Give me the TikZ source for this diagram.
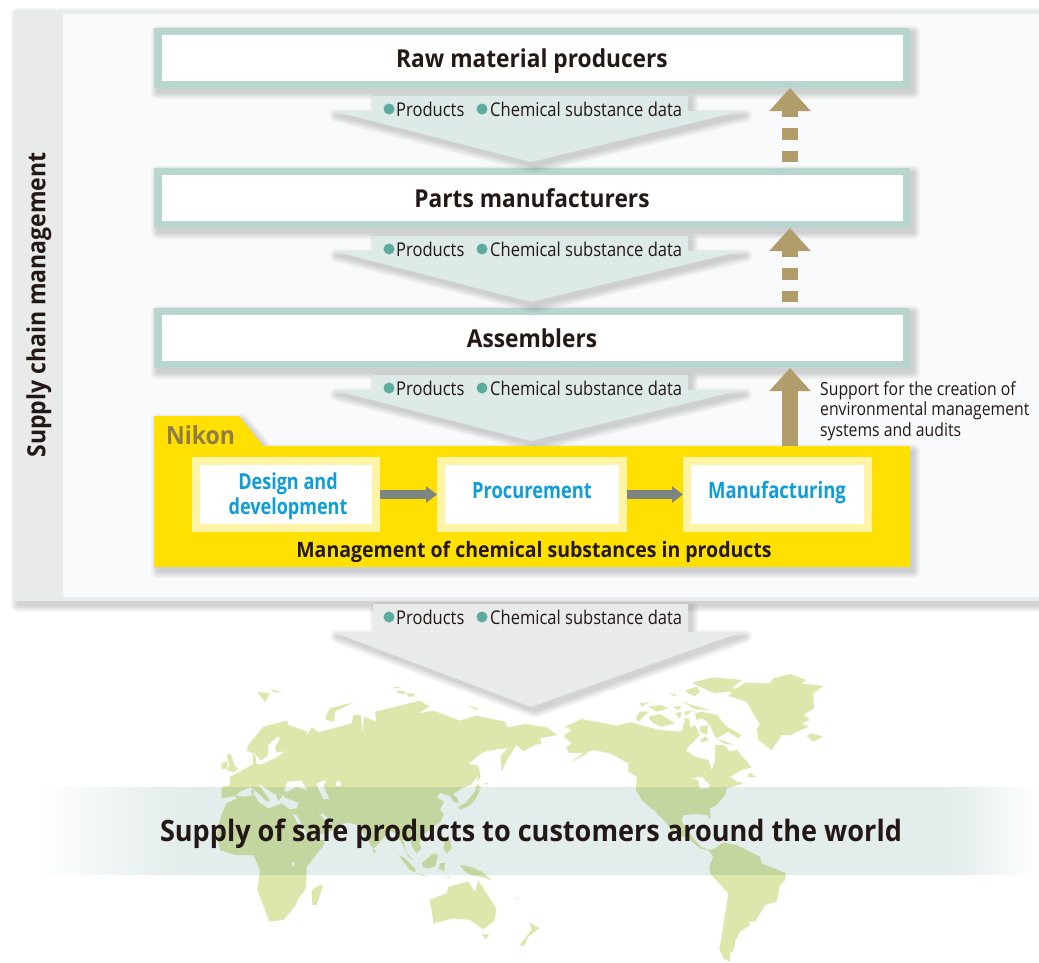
\documentclass[tikz,border=0pt]{standalone}
\usepackage{fontspec}
\setmainfont{Open Sans}
\newfontfamily\hdfont{Open Sans}[FakeStretch=0.92]
\newfontfamily\cond{Open Sans}[FakeStretch=0.87]
\newfontfamily\stepf{Open Sans}[FakeStretch=0.82]
\usetikzlibrary{arrows.meta,calc}
\definecolor{panelgray}{HTML}{E9EBEA}
\definecolor{panelin}{HTML}{F9FAFB}
\definecolor{boxborder}{HTML}{B8D5CF}
\definecolor{flowtint}{HTML}{DDEAE7}
\definecolor{dotteal}{HTML}{5DAB9F}
\definecolor{goldbrown}{HTML}{B09D6A}
\definecolor{nikony}{HTML}{FFE000}
\definecolor{paley}{HTML}{FFF3A6}
\definecolor{nikont}{HTML}{8F7D45}
\definecolor{stepblue}{HTML}{0F9DD8}
\definecolor{arrowgray}{HTML}{7D8583}
\definecolor{inkdark}{HTML}{231815}
\definecolor{landg}{HTML}{DDE7AC}
\definecolor{bandc}{HTML}{E3EDEC}
\pgfdeclarehorizontalshading{bandfade}{100bp}{color(0bp)=(white);color(25bp)=(white);color(32.2bp)=(bandc);color(70.6bp)=(bandc);color(75bp)=(white);color(100bp)=(white)}
\tikzset{
  x=1pt,y=-1pt,
  tierbox/.style={draw=boxborder,line width=7.5pt,fill=white,inner sep=0pt,minimum width=748.5pt,minimum height=53pt,text=inkdark,text height=19pt,text depth=0pt,font=\hdfont\fontsize{24.7}{28}\selectfont\bfseries},
  stepbox/.style={draw=paley,line width=8pt,fill=white,inner sep=0pt,minimum height=67pt,text=stepblue,align=center,font=\stepf\fontsize{22}{25}\selectfont\bfseries},
  flowtext/.style={inner sep=0pt,anchor=base west,text=inkdark,font=\cond\fontsize{19}{22}\selectfont},
  grayarrow/.style={draw=arrowgray,line width=9pt,-{Triangle[length=11pt,width=16pt]}},
  goldarrow/.style={draw=goldbrown,line width=16pt,-{Triangle[length=23pt,width=40pt]}},
  land/.style={fill=landg,draw=none},
  sea/.style={fill=white,draw=none},
}
\newcommand\softshadow[1]{\foreach \w in {13,10,7,4,1}{\begin{scope}[transparency group,opacity=.035,shift={(3.5,4.5)}]\fill[black,draw=black,line width=\w pt,line join=round] #1;\end{scope}}}
% #1 node prefix, #2 vertical offset, #3 tint, #4 base y, #5 tip y
\newcommand\flowrow[5]{%
  \begin{scope}[shift={(0,#2)}]
    \softshadow{(333,#4)--(373,#4)--(373,96)--(688,96)--(688,#4)--(742,#4)--(531,#5)--cycle}
    \fill[#3] (333,#4)--(373,#4)--(373,96)--(688,96)--(688,#4)--(742,#4)--(531,#5)--cycle;
    \fill[dotteal] (389,109) circle (5.5);
    \node[flowtext] (#1p) at (396,116) {Products};
    \fill[dotteal] (482,109) circle (5.5);
    \node[flowtext] (#1c) at (490,116) {Chemical substance data};
  \end{scope}}
\begin{document}
\begin{tikzpicture}
\useasboundingbox (0,0) rectangle (1039,962);
\fill[white] (0,0) rectangle (1039,962);
% outer panel
\softshadow{(14,10)--(1050,10)--(1050,601)--(14,601)--cycle}
\fill[panelgray] (14,10) rectangle (1039,601);
\fill[panelin] (63,14) rectangle (1039,597);
\node[rotate=90,inner sep=0pt,text=inkdark,font=\hdfont\fontsize{25}{28}\selectfont\bfseries] (scm) at (39,305) {Supply chain management};
% tiers
\softshadow{(154,27.5) rectangle (910,88)}
\softshadow{(154,167.5) rectangle (910,228)}
\softshadow{(154,307.5) rectangle (910,368)}
\node[tierbox] (raw) at (532,57.75) {Raw material producers};
\node[tierbox] (parts) at (532,197.75) {Parts manufacturers};
\node[tierbox] (asm) at (532,337.75) {Assemblers};
\flowrow{fa}{0}{flowtint}{111}{162}
\flowrow{fb}{140}{flowtint}{111}{162}
\flowrow{fc}{279}{flowtint}{111}{162}
\flowrow{fd}{508}{panelgray}{124}{199}
% Nikon panel
\softshadow{(154,416)--(239,416)--(264,446)--(910,446)--(910,567)--(154,567)--cycle}
\node[inner sep=0pt,minimum width=756pt,minimum height=121pt,fill=nikony] (nikonp) at (532,506.5) {};
\fill[nikony] (154,416)--(239,416)--(264,447)--(154,447)--cycle;
\node[inner sep=0pt,anchor=base west,text=nikont,font=\hdfont\fontsize{25}{28}\selectfont\bfseries] (nikonl) at (166,444) {Nikon};
\node[stepbox,minimum width=180pt] (des) at (286,494.5) {};
\node[text=stepblue,inner sep=0pt,align=center,font=\stepf\fontsize{22}{25}\selectfont\bfseries] (destxt) at (288,496) {Design and\\development};
\node[stepbox,minimum width=182pt] (proc) at (532,494.5) {};
\node[text=stepblue,inner sep=0pt,font=\stepf\fontsize{22.3}{25}\selectfont\bfseries] (proctxt) at (532,490.5) {Procurement};
\node[stepbox,minimum width=181pt] (manu) at (777.5,494.5) {};
\node[text=stepblue,inner sep=0pt,font=\stepf\fontsize{22.6}{25}\selectfont\bfseries] (manutxt) at (777,493) {Manufacturing};
\draw[grayarrow] (des.east) -- (proc.west);
\draw[grayarrow] (proc.east) -- (manu.west);
\node[inner sep=0pt,text=inkdark,font=\hdfont\fontsize{21.2}{24}\selectfont\bfseries] (mgmt) at (534,552) {Management of chemical substances in products};
% gold arrows
\coordinate (ga1) at (790,88);
\coordinate (gb1) at (790,162);
\coordinate (ga2) at (790,228);
\coordinate (gb2) at (790,302);
\coordinate (ga3) at (790,368);
\coordinate (gb3) at (790,446);
\draw[goldarrow,dash pattern=on 11.5pt off 11pt] (gb1) -- (ga1);
\draw[goldarrow,dash pattern=on 11.5pt off 11pt] (gb2) -- (ga2);
\draw[goldarrow] (gb3) -- (ga3);
\node[anchor=north west,inner sep=0pt,align=left,text=inkdark,font=\cond\fontsize{18.1}{20.5}\selectfont] (sup) at (820,381) {Support for the creation of\\environmental management\\systems and audits};
% world map
\begin{scope}[shift={(220,670)},scale=0.33333]
\fill[land] (5,352)--(30,345)--(30,320)--(65,302)--(100,282)--(97,252)--(107,258)--(108,280)--(125,283)--(170,262)--(195,243)--(170,248)--(165,232)--(180,205)--(175,198)--(145,225)--(143,258)--(122,272)--(105,252)--(80,242)--(85,225)--(130,170)--(200,152)--(205,165)--(262,185)--(250,207)--(222,205)--(218,188)--(240,208)--(265,190)--(275,172)--(295,187)--(395,160)--(400,135)--(422,135)--(428,190)--(432,140)--(470,155)--(465,125)--(600,92)--(628,110)--(595,130)--(640,122)--(720,152)--(770,137)--(855,155)--(862,172)--(915,162)--(980,172)--(1012,195)--(960,205)--(965,220)--(945,225)--(910,243)--(888,225)--(860,272)--(845,305)--(842,258)--(862,235)--(830,238)--(790,246)--(745,282)--(770,285)--(778,298)--(770,322)--(752,345)--(725,355)--(700,372)--(712,385)--(715,400)--(700,395)--(690,378)--(660,368)--(650,382)--(672,395)--(660,420)--(672,432)--(662,455)--(625,482)--(605,497)--(597,520)--(605,533)--(590,550)--(577,532)--(570,505)--(550,510)--(558,545)--(580,572)--(565,560)--(548,525)--(535,500)--(525,490)--(510,482)--(490,505)--(462,535)--(455,530)--(432,490)--(415,466)--(385,458)--(360,462)--(345,478)--(310,490)--(265,505)--(312,510)--(312,525)--(260,590)--(258,655)--(232,690)--(228,705)--(190,750)--(148,755)--(112,660)--(120,600)--(100,555)--(45,555)--(0,540)--(-10,490)--(5,432)--(20,400)--(50,385)--(45,378)--(5,385)--cycle;
% islands, east
\fill[land] (112,66)--(150,70)--(135,97)--cycle;
\fill[land] (150,58)--(185,65)--(165,68)--cycle;
\fill[land] (317,140)--(330,115)--(400,97)--(345,125)--(342,155)--(318,150)--cycle;
\fill[land] (520,50)--(545,52)--(525,55)--cycle;
\fill[land] (530,60)--(555,65)--(555,72)--(535,70)--cycle;
\fill[land] (560,70)--(580,70)--(585,80)--(565,80)--cycle;
\fill[land] (745,107)--(775,115)--(770,120)--cycle;
\fill[land] (458,535)--(468,545)--(460,550)--cycle;
\fill[land] (275,660)--(303,643)--(308,650)--(290,705)--(277,705)--cycle;
\fill[land] (628,690)--(680,670)--(685,650)--(745,635)--(765,665)--(775,632)--(800,670)--(828,715)--(825,750)--(790,778)--(750,750)--(700,745)--(640,760)--(635,720)--cycle;
\fill[land] (785,793)--(807,793)--(798,808)--cycle;
\fill[land] (930,758)--(958,775)--(935,792)--(925,800)--(912,828)--(898,825)--(925,792)--(935,780)--cycle;
\fill[land] (885,680)--(900,690)--(890,686)--cycle;
\end{scope}
\begin{scope}[shift={(200,680)},scale=0.33333]
\fill[land] (80,225)--(92,220)--(105,260)--(115,265)--(100,278)--(80,270)--(88,255)--cycle;
\fill[land] (65,250)--(80,245)--(82,265)--(65,268)--cycle;
\fill[sea] (108,347)--(122,335)--(150,322)--(175,340)--(200,365)--(212,362)--(175,312)--(228,345)--(235,365)--(250,345)--(252,352)--(295,368)--(290,385)--(270,388)--(245,370)--(205,385)--(175,365)--(165,345)--(130,350)--cycle;
\fill[land] (154,330)--(161,330)--(160,346)--(155,346)--cycle;
\fill[sea] (252,333)--(262,305)--(305,302)--(322,332)--(290,320)--(262,335)--cycle;
\fill[sea] (350,310)--(378,300)--(370,320)--(388,355)--(370,358)--(355,325)--cycle;
\fill[sea] (415,311) circle (8);
\fill[sea] (278,402)--(290,405)--(325,472)--(318,475)--cycle;
\fill[sea] (356,400)--(370,402)--(398,428)--(385,430)--cycle;
\fill[sea] (275,548)--(285,548)--(280,562)--cycle;
\end{scope}
\begin{scope}[shift={(390,760)},scale=0.33333]
\fill[land] (205,140)--(225,130)--(250,100)--(260,85)--(270,90)--(258,115)--(240,135)--(210,150)--cycle;
\fill[land] (262,70)--(275,85)--(255,85)--cycle;
\fill[land] (265,15)--(272,50)--(262,65)--(262,35)--cycle;
\fill[land] (285,70)--(295,68)--(288,75)--cycle;
\fill[land] (165,240)--(180,240)--(185,265)--(170,280)--(160,265)--cycle;
\fill[land] (95,310)--(130,280)--(145,285)--(135,320)--(115,325)--(100,322)--cycle;
\fill[land] (25,285)--(45,295)--(75,325)--(78,338)--(60,330)--cycle;
\fill[land] (80,340)--(120,350)--(100,348)--cycle;
\fill[land] (150,310)--(165,308)--(162,335)--(150,325)--(145,335)--cycle;
\fill[land] (210,315)--(240,320)--(275,335)--(305,360)--(270,350)--(240,345)--(220,330)--cycle;
\fill[land] (170,352)--(185,348)--(175,355)--cycle;
\end{scope}
\begin{scope}[shift={(560,660)},scale=0.33333]
\fill[land] (10,228)--(35,210)--(15,200)--(65,177)--(170,197)--(210,187)--(300,210)--(365,215)--(372,190)--(385,205)--(405,195)--(420,225)--(385,260)--(378,272)--(405,290)--(445,300)--(455,330)--(465,300)--(465,255)--(490,255)--(510,275)--(530,270)--(575,322)--(545,330)--(510,350)--(530,365)--(550,370)--(500,385)--(495,405)--(470,435)--(450,445)--(452,478)--(440,465)--(410,462)--(370,465)--(365,485)--(395,530)--(425,562)--(455,570)--(490,548)--(530,555)--(600,590)--(605,610)--(678,640)--(675,660)--(660,675)--(650,725)--(615,735)--(585,785)--(565,785)--(570,795)--(540,815)--(525,845)--(522,870)--(510,880)--(510,905)--(490,895)--(478,865)--(485,830)--(505,700)--(450,640)--(448,620)--(460,590)--(445,570)--(420,565)--(385,535)--(340,520)--(320,490)--(280,450)--(245,420)--(228,390)--(230,350)--(205,335)--(205,310)--(150,280)--(100,270)--(85,275)--(75,285)--(30,308)--(70,280)--(25,278)--(18,262)--(35,250)--cycle;
\fill[sea] (395,355)--(425,350)--(450,375)--(445,385)--(420,385)--(415,360)--cycle;
\fill[sea] (275,450)--(285,452)--(310,490)--(300,490)--cycle;
\fill[land] (395,68)--(460,52)--(545,60)--(505,95)--(465,100)--(430,85)--cycle;
\fill[land] (375,92)--(410,80)--(420,95)--(405,108)--(385,100)--cycle;
\fill[land] (405,160)--(425,155)--(470,165)--(500,200)--(545,225)--(535,235)--(505,215)--(470,235)--(510,250)--(520,255)--(490,250)--(465,230)--(450,195)--(440,185)--(425,175)--(410,180)--cycle;
\fill[land] (228,175)--(240,155)--(265,155)--(250,170)--(235,185)--cycle;
\fill[land] (265,170)--(300,162)--(345,190)--(305,200)--(280,190)--cycle;
\fill[land] (240,130)--(270,125)--(245,140)--cycle;
\fill[land] (265,140)--(300,135)--(325,145)--(290,155)--cycle;
\fill[land] (338,140)--(365,138)--(355,150)--cycle;
\fill[land] (368,125)--(395,135)--(450,150)--(405,148)--cycle;
\fill[land] (325,98)--(350,105)--(345,110)--cycle;
\fill[land] (345,160)--(365,155)--(360,175)--cycle;
\fill[land] (375,155)--(400,150)--(375,170)--cycle;
\fill[land] (372,175)--(388,175)--(390,210)--(375,195)--cycle;
\fill[land] (420,200)--(445,195)--(440,225)--(420,215)--cycle;
\fill[land] (420,240)--(435,230)--(447,240)--(425,247)--cycle;
\fill[land] (505,108)--(515,100)--(500,85)--(530,85)--(555,68)--(630,70)--(640,55)--(690,42)--(738,60)--(725,70)--(790,78)--(760,100)--(762,145)--(730,165)--(750,180)--(725,190)--(745,200)--(690,225)--(665,225)--(635,270)--(595,240)--(590,205)--(600,195)--(560,125)--cycle;
\fill[land] (740,228)--(755,220)--(788,230)--(760,245)--cycle;
\fill[land] (560,350)--(570,338)--(590,352)--cycle;
\end{scope}
% band
\begin{scope}[blend mode=multiply]
\shade[shading=bandfade] (35,787) rectangle (1039,874);
\end{scope}
\node[inner sep=0pt,text=inkdark,font=\hdfont\fontsize{29.45}{34}\selectfont\bfseries] (safe) at (531,834) {Supply of safe products to customers around the world};
\end{tikzpicture}
\end{document}
